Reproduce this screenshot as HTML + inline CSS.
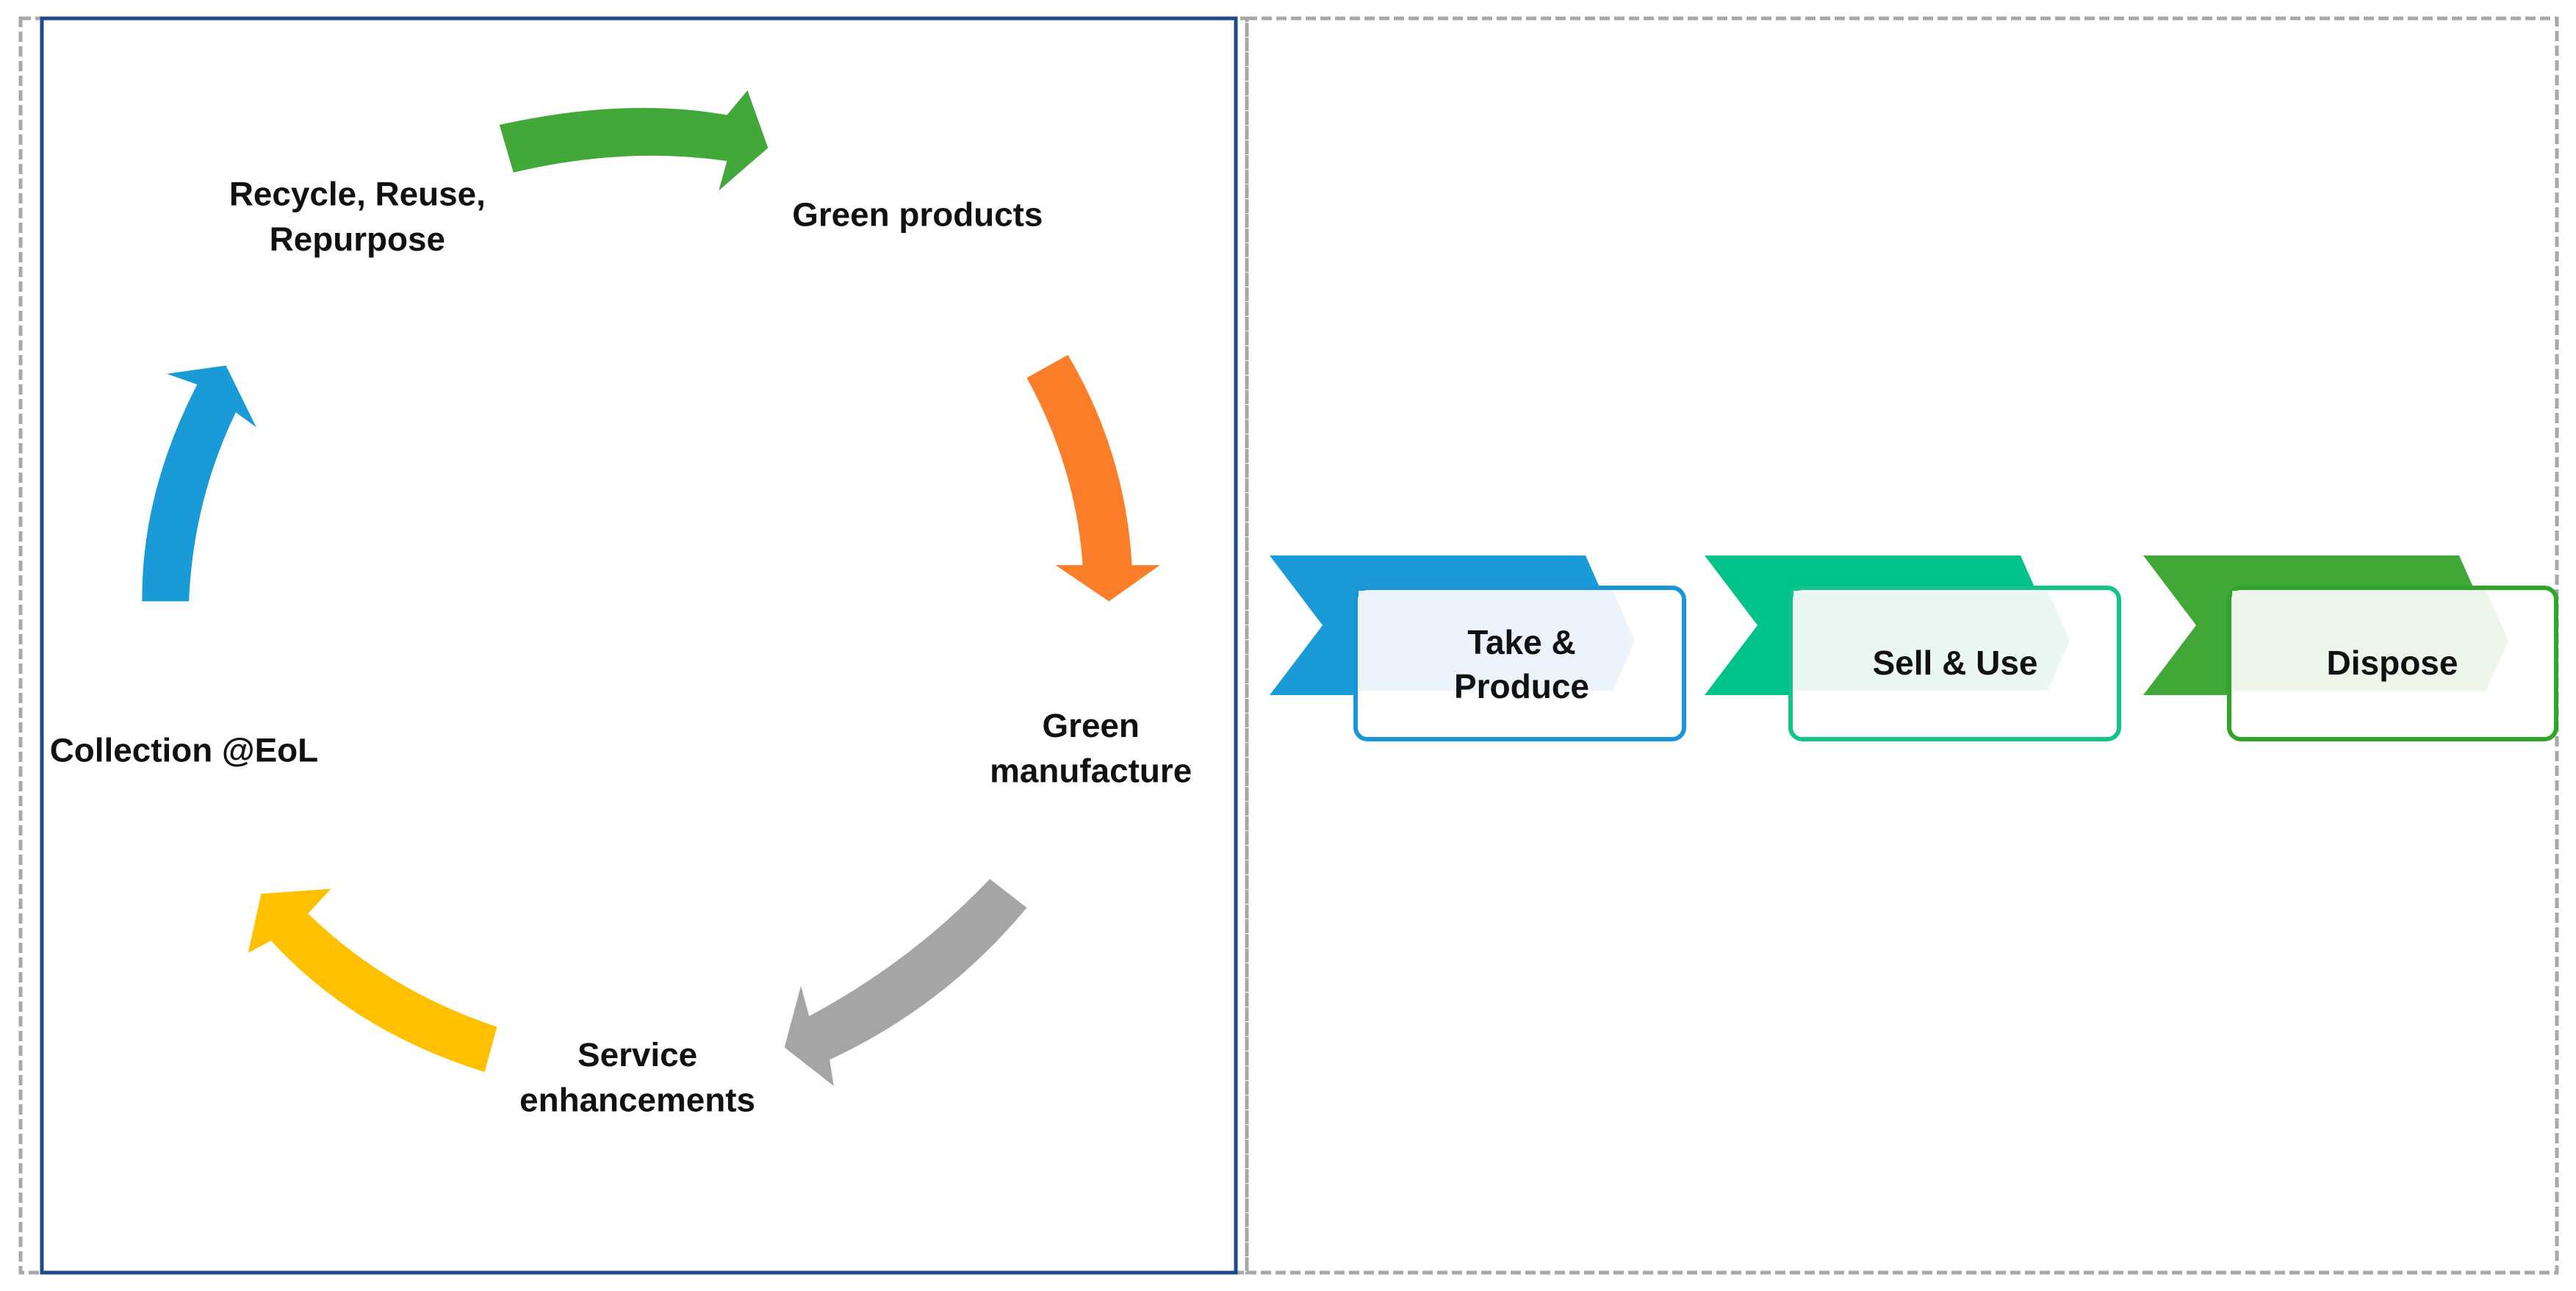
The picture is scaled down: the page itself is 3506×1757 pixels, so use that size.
<!DOCTYPE html>
<html><head><meta charset="utf-8"><style>
html,body{margin:0;padding:0;background:#fff;}
svg{display:block;}
text{font-family:"Liberation Sans",sans-serif;font-weight:bold;fill:#111;}
</style></head><body>
<svg width="3506" height="1757" viewBox="0 0 3506 1757" xmlns="http://www.w3.org/2000/svg">
<!-- dashed panels -->
<rect x="28" y="25" width="1669" height="1707" fill="none" stroke="#a8a8a8" stroke-width="5" stroke-dasharray="14 6"/>
<rect x="1697" y="25" width="1783" height="1707" fill="none" stroke="#a8a8a8" stroke-width="5" stroke-dasharray="14 6"/>
<rect x="57" y="25" width="1625" height="1707" fill="#fff" stroke="#1d4a8a" stroke-width="5"/>

<g transform="scale(1.118)">
<path d="M608,152 Q760,118 885,140 L910,110 L935,180 L875,232 L885,196 Q760,178 625,210 Z" fill="#43a83a"/>
<path d="M1250,460 L1300,432 Q1370,550 1378,688 L1412,688 L1350,732 L1285,688 L1318,688 Q1310,570 1250,460 Z" fill="#fd7e28"/>
<path d="M1205,1070 L1250,1105 Q1150,1225 1010,1290 L1015,1322 L955,1275 L975,1200 L985,1237 Q1110,1170 1205,1070 Z" fill="#a5a5a5"/>
<path d="M605,1250 L590,1305 Q430,1255 330,1145 L302,1160 L318,1088 L403,1082 L375,1112 Q470,1205 605,1250 Z" fill="#ffc000"/>
<path d="M173,732 Q172,600 240,468 L203,455 L275,445 L312,520 L287,502 Q235,610 230,732 Z" fill="#1a9ad6"/>
<g font-size="41" text-anchor="middle">
<text x="435" y="250">Recycle, Reuse,</text>
<text x="435" y="305">Repurpose</text>
<text x="1117" y="275">Green products</text>
<text x="1328" y="897">Green</text>
<text x="1328" y="952">manufacture</text>
<text x="776" y="1298">Service</text>
<text x="776" y="1353">enhancements</text>
<text x="224" y="927">Collection @EoL</text>
</g>
</g>

<!-- right panel -->
<g>
<polygon points="1728,756 2158,756 2200,851 2158,946 1728,946 1800,851" fill="#1a9ad6"/>
<rect x="1845" y="800" width="447" height="206" rx="16" fill="#fff" stroke="#1a96d8" stroke-width="6"/>
<polygon points="1849,804 2195,804 2225,872 2195,940 1849,940" fill="#edf3fb"/>
<text x="2071" y="890" font-size="46" text-anchor="middle">Take &amp;</text>
<text x="2071" y="950" font-size="46" text-anchor="middle">Produce</text>
</g>
<g transform="translate(592,0)">
<polygon points="1728,756 2158,756 2200,851 2158,946 1728,946 1800,851" fill="#00c389"/>
<rect x="1845" y="800" width="447" height="206" rx="16" fill="#fff" stroke="#12c48c" stroke-width="6"/>
<polygon points="1849,804 2195,804 2225,872 2195,940 1849,940" fill="#ebf7f2"/>
<text x="2069" y="918" font-size="46" text-anchor="middle">Sell &amp; Use</text>
</g>
<g transform="translate(1189,0)">
<polygon points="1728,756 2158,756 2200,851 2158,946 1728,946 1800,851" fill="#41a838"/>
<rect x="1845" y="800" width="445" height="206" rx="16" fill="#fff" stroke="#2fa52a" stroke-width="6"/>
<polygon points="1849,804 2195,804 2225,872 2195,940 1849,940" fill="#eef6ec"/>
<text x="2067" y="918" font-size="46" text-anchor="middle">Dispose</text>
</g>
</svg>
</body></html>
